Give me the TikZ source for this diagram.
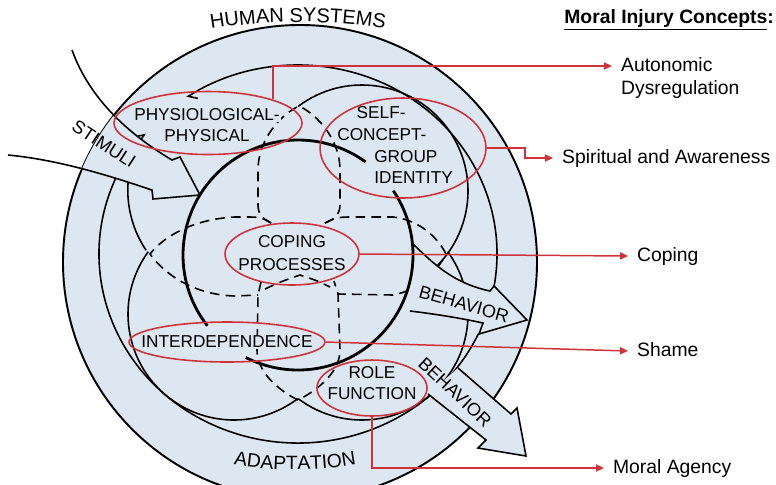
\documentclass[tikz,border=0pt]{standalone}
\usepackage{fontspec}
\setmainfont{Liberation Sans}
\usepackage{xcolor}
\usetikzlibrary{arrows.meta,positioning,shapes.geometric,decorations.text}

\definecolor{sysblue}{RGB}{220,231,242}
\definecolor{injred}{RGB}{208,50,58}
\newcommand{\mask}[1]{{\setlength{\fboxsep}{0.6pt}\colorbox{sysblue}{#1}}}

\begin{document}
\begin{tikzpicture}[
  x=0.02cm, y=-0.02cm,
  loop/.style={line width=0.9pt},
  band/.style={line width=0.9pt, dash pattern=on 5.5pt off 3.5pt},
  core/.style={line width=1.6pt},
  ring/.style={ellipse, draw=injred, line width=0.9pt, inner sep=0pt},
  mode/.style={font=\fontsize{9.8}{12}\selectfont, align=center, inner sep=0pt},
  flow/.style={font=\fontsize{10.3}{12}\selectfont, inner sep=0pt},
  concept/.style={font=\fontsize{11}{13}\selectfont, anchor=west,
    inner xsep=5pt, inner ysep=2.5pt, text height=8pt, text depth=2.3pt},
  link/.style={draw=injred, line width=0.85pt, -{Triangle[length=4.5pt,width=4pt]}}
]
\useasboundingbox (0,0) rectangle (776,484);
\clip (0,0) rectangle (776,484);

% human system
\fill[sysblue] (300,262) circle[radius=237];
\draw[line width=1.1pt] (300,262) circle[radius=237];

% feedback rings
\draw[loop, -{Straight Barb[harpoon,length=4pt]}] (298,254) ++(11:199 and 189)
  arc[start angle=11, end angle=-124, x radius=199, y radius=189];
\draw[loop] (298,254) ++(25:199 and 189)
  arc[start angle=25, end angle=205, x radius=199, y radius=189];

% adaptive modes
\draw[loop, -{Straight Barb[harpoon,length=4pt]}] (234,191) ++(146:106)
  arc[start angle=146, end angle=213, radius=106];
\draw[loop] (362,191) ++(233:106) arc[start angle=233, end angle=405, radius=106];
\draw[loop] (234,314) ++(216:106) arc[start angle=216, end angle=53, radius=106];
\draw[loop] (362,314) ++(127:106) arc[start angle=127, end angle=-36, radius=106];

% dashed band
\draw[band] (271,223) .. controls (264,220) and (258,215) .. (258,205) -- (258,170)
  .. controls (258,140) and (280,115) .. (299,106)
  .. controls (318,115) and (340,140) .. (340,170) -- (340,205)
  .. controls (340,215) and (333,220) .. (325,223);
\draw[band] (271,223) .. controls (266,219) and (260,217) .. (250,217) -- (235,217)
  .. controls (195,219) and (165,235) .. (150,254)
  .. controls (165,275) and (195,295) .. (235,296) -- (258,295);
\draw[band] (325,223) .. controls (332,219) and (338,217) .. (348,217) -- (393,217)
  .. controls (420,220) and (438,238) .. (446,254)
  .. controls (438,270) and (420,290) .. (393,295) -- (338,294);
\draw[band] (261,282) -- (258,295) -- (257,350)
  .. controls (257,372) and (278,390) .. (298,400)
  .. controls (318,390) and (340,372) .. (340,350) -- (338,294) -- (334,281);
\draw[band] (265,289) .. controls (280,282) .. (300,275) .. controls (318,281) .. (330,287);

% stimuli
\begin{scope}
  \clip (300,262) circle[radius=237];
  \fill[sysblue] (72,50) .. controls (90,100) and (130,135) .. (172,160) -- (180,157)
    -- (200,195) -- (153,199) -- (152,190) .. controls (110,176) and (60,160) .. (8,155) -- cycle;
\end{scope}
\draw[loop] (72,50) .. controls (90,100) and (130,135) .. (172,160) -- (180,157)
  -- (200,195) -- (153,199) -- (152,190) .. controls (110,176) and (60,160) .. (8,155);

% behavior
\fill[sysblue] (413,244) .. controls (432,262) and (452,283) .. (490,291) -- (494,286)
  -- (527,320) -- (479,334) -- (483,323) .. controls (460,318) and (435,314) .. (410,311) -- cycle;
\draw[loop] (413,244) .. controls (432,262) and (452,283) .. (490,291) -- (494,286)
  -- (527,320) -- (479,334) -- (483,323) .. controls (460,318) and (435,314) .. (410,311);
\fill[sysblue] (458,368) -- (511,414) -- (517,408) -- (526,456) -- (478,448) -- (486,440)
  -- (428,394) -- cycle;
\draw[loop] (458,368) -- (511,414) -- (517,408) -- (526,456) -- (478,448) -- (486,440)
  -- (428,394);

% coping processes
\draw[core] (298,255) ++(142:115) arc[start angle=142, end angle=306, radius=115];
\draw[core] (298,255) ++(326:115) arc[start angle=326, end angle=477, radius=115];

% labels
\node[mode] (physlabel) at (207,125) {\mask{PHYSIOLOGICAL-}\\\mask{PHYSICAL}};
\node[mode, font=\fontsize{9.8}{12.5}\selectfont, align=left, anchor=west] (selflabel) at (336,145)
  {\hspace*{11pt}\mask{SELF-}\\\mask{CONCEPT-}\\\hspace*{21pt}\mask{GROUP}\\\hspace*{21pt}\mask{IDENTITY}};
\node[mode, font=\fontsize{9.8}{13.5}\selectfont] (copinglabel) at (292,253) {\mask{COPING}\\\mask{PROCESSES}};
\node[mode] (interlabel) at (227,342) {\mask{INTERDEPENDENCE}};
\node[mode] (rolelabel) at (372,383) {\mask{ROLE}\\\mask{FUNCTION}};

\node[ring, minimum width=3.76cm, minimum height=1.26cm] (physring) at (208,123) {};
\node[ring, minimum width=3.32cm, minimum height=2.0cm] (selfring) at (403,148) {};
\node[ring, minimum width=2.68cm, minimum height=1.24cm] (copingring) at (292,254) {};
\node[ring, minimum width=3.92cm, minimum height=0.8cm] (interring) at (227,342) {};
\node[ring, minimum width=2.2cm, minimum height=1.12cm] (rolering) at (372,388) {};

\node[flow, rotate=-33] (stimuli) at (104,144) {STIMULI};
\node[flow, rotate=-16] (behaviorup) at (464,304) {BEHAVIOR};
\node[flow, rotate=-43] (behaviordown) at (455,392) {BEHAVIOR};

\path[decorate, decoration={text along path, text align=center,
  text={|\fontsize{11.4}{13}\selectfont|HUMAN SYSTEMS}}]
  (200,31) .. controls (262,19) and (334,19) .. (396,31);
\path[decorate, decoration={text along path, text align=center,
  text={|\fontsize{11}{13}\selectfont|ADAPTATION}}]
  (226,463) .. controls (268,472) and (322,472) .. (364,463);

% moral injury concepts
\node[font=\bfseries\fontsize{11}{13}\selectfont, anchor=west, inner sep=0pt] (heading) at (564,20)
  {\underline{Moral Injury Concepts}:};
\node[concept] (autonomic) at (612,66) {Autonomic};
\node[concept, below=-2.5pt of autonomic.south west, anchor=north west] (dysreg) {Dysregulation};
\node[concept] (spiritual) at (553,158) {Spiritual and Awareness};
\node[concept] (copingout) at (628,256) {Coping};
\node[concept] (shame) at (628,351) {Shame};
\node[concept] (agency) at (604,468) {Moral Agency};

\draw[link] (physring.20) |- (autonomic.west);
\draw[link] (selfring.east) -- ++(38,0) |- (spiritual.west);
\draw[link] (copingring.east) -- (copingout.west);
\draw[link] (interring.east) -- (shame.west);
\draw[link] (rolering.south) |- (agency.west);
\end{tikzpicture}
\end{document}
